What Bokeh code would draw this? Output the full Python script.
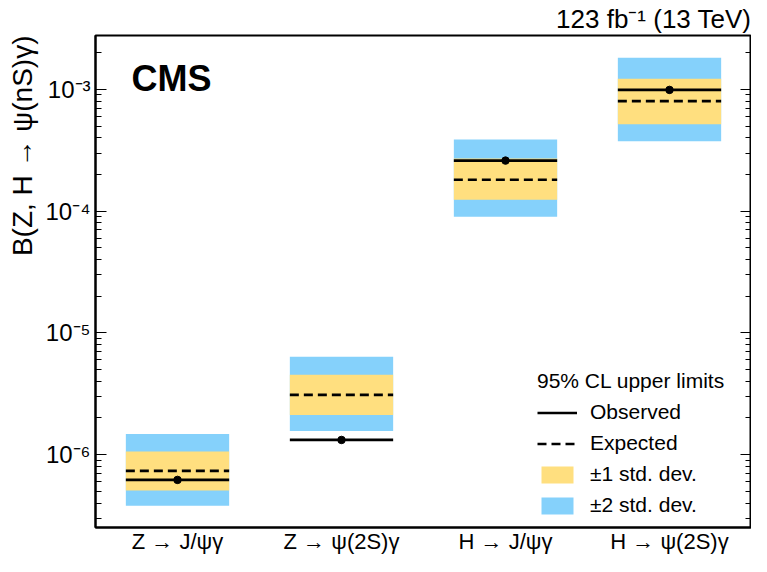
from bokeh.plotting import figure
from bokeh.models import (Range1d, LogAxis, FixedTicker, Legend, LegendItem,
                          Title, Label, ColumnDataSource)
from bokeh.embed import file_html
from bokeh.resources import INLINE

# ---- data ----
categories = ["Z \u2192 J/\u03c8\u03b3", "Z \u2192 \u03c8(2S)\u03b3",
              "H \u2192 J/\u03c8\u03b3", "H \u2192 \u03c8(2S)\u03b3"]
observed = [6.2e-7, 1.32e-6, 2.60e-4, 9.9e-4]
expected = [7.35e-7, 3.10e-6, 1.81e-4, 8.0e-4]
band2_lo = [3.8e-7, 1.56e-6, 9.0e-5, 3.75e-4]
band1_lo = [5.07e-7, 2.12e-6, 1.24e-4, 5.16e-4]
band1_hi = [1.06e-6, 4.53e-6, 2.70e-4, 1.225e-3]
band2_hi = [1.475e-6, 6.37e-6, 3.88e-4, 1.82e-3]

y_major = [1e-6, 1e-5, 1e-4, 1e-3]
y_major_labels = ["10\u207b\u2076", "10\u207b\u2075", "10\u207b\u2074", "10\u207b\u00b3"]
y_label = "B(Z, H \u2192 \u03c8(nS)\u03b3)"
lumi_label = "123 fb\u207b\u00b9 (13 TeV)"

FONT = "Liberation Sans"
YELLOW = "#FFDF7F"
BLUE = "#85D1FB"
HALF = 0.315

xc = [i + 0.5 for i in range(len(categories))]
src = ColumnDataSource(dict(
    x=xc, x0=[v - HALF for v in xc], x1=[v + HALF for v in xc],
    obs=observed, exp=expected,
    b2lo=band2_lo, b1lo=band1_lo, b1hi=band1_hi, b2hi=band2_hi,
))

p = figure(width=751, height=556, x_range=Range1d(0, len(categories)),
           y_range=Range1d(2.52e-7, 2.77e-3), y_axis_type="log",
           output_backend="svg", toolbar_location=None,
           min_border_left=94, min_border_right=0, min_border_top=34,
           min_border_bottom=28)
p.background_fill_color = "white"
p.border_fill_color = "white"
p.xgrid.visible = False
p.ygrid.visible = False
p.outline_line_color = "black"
p.outline_line_width = 2

# title (luminosity)
p.title.text = lumi_label
p.title.align = "right"
p.title.text_font = FONT
p.title.text_font_size = "26px"
p.title.text_font_style = "normal"
p.title.text_color = "black"
p.title.standoff = 3

# bands
r2 = p.quad(left="x0", right="x1", bottom="b2lo", top="b2hi", source=src,
            fill_color=BLUE, line_color=None)
r1 = p.quad(left="x0", right="x1", bottom="b1lo", top="b1hi", source=src,
            fill_color=YELLOW, line_color=None)
rexp = p.segment(x0="x0", x1="x1", y0="exp", y1="exp", source=src,
                 line_color="black", line_width=2.7, line_dash="9 5")
robs = p.segment(x0="x0", x1="x1", y0="obs", y1="obs", source=src,
                 line_color="black", line_width=2.7)
p.scatter(x="x", y="obs", source=src, size=7.5, color="black")

# y axis (left)
yax = p.yaxis[0]
ticker = FixedTicker(ticks=y_major,
                     minor_ticks=[k * 10.0 ** d for d in range(-7, -2) for k in range(2, 10)])
yax.ticker = ticker
yax.major_label_overrides = dict(zip(y_major, y_major_labels))
yax.major_label_text_font = FONT
yax.major_label_text_font_size = "24px"
yax.major_label_text_color = "black"
yax.major_label_standoff = 5
ax_common = dict(axis_line_color="black", axis_line_width=2,
                 major_tick_in=11, major_tick_out=0, minor_tick_in=6, minor_tick_out=0,
                 major_tick_line_color="black", minor_tick_line_color="black",
                 major_tick_line_width=1.2, minor_tick_line_width=1.2)
for k, v in ax_common.items():
    setattr(yax, k, v)

rax = LogAxis(ticker=ticker, major_label_overrides={v: "" for v in y_major},
              major_label_text_font_size="2px", major_label_standoff=0, **ax_common)
p.add_layout(rax, "right")

# y label as a left title aligned at top
p.add_layout(Title(text=y_label, align="right", text_font=FONT, text_font_size="28px",
                   text_font_style="normal", text_color="black", standoff=9), "left")

# x axis
xax = p.xaxis[0]
xax.ticker = FixedTicker(ticks=xc, minor_ticks=[])
xax.major_label_overrides = dict(zip(xc, categories))
xax.major_label_text_font = FONT
xax.major_label_text_font_size = "22px"
xax.major_label_text_color = "black"
xax.major_label_standoff = 1
xax.major_tick_in = 0
xax.major_tick_out = 0
xax.minor_tick_in = 0
xax.minor_tick_out = 0
xax.major_tick_line_color = None
xax.minor_tick_line_color = None
xax.axis_line_color = "black"
xax.axis_line_width = 2

# CMS label
p.add_layout(Label(x=0.22, y=1.23e-3, text="CMS", text_font=FONT, text_font_size="36px",
                   text_font_style="bold", text_color="black", text_baseline="middle"))

legend = Legend(items=[LegendItem(label="Observed", renderers=[robs]),
                       LegendItem(label="Expected", renderers=[rexp]),
                       LegendItem(label="\u00b11 std. dev.", renderers=[r1]),
                       LegendItem(label="\u00b12 std. dev.", renderers=[r2])],
                location=(442, 10), title="95% CL upper limits",
                title_text_font=FONT, title_text_font_size="21px", title_text_font_style="normal",
                title_text_color="black", title_standoff=7,
                label_text_font=FONT, label_text_font_size="21px", label_text_color="black",
                glyph_width=40, glyph_height=21, label_height=21, spacing=7,
                padding=5, margin=0, label_standoff=13,
                border_line_color=None, background_fill_alpha=0)
p.add_layout(legend)

open("out.html", "w").write(file_html(p, INLINE))
